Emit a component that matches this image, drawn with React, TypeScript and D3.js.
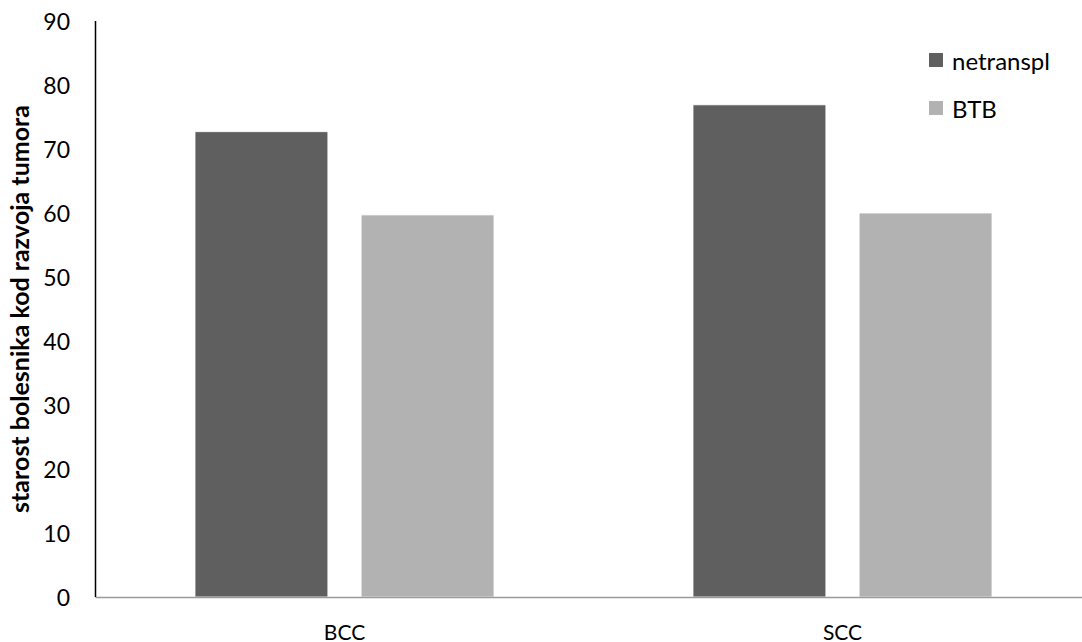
import React from "react";
import * as d3 from "d3";

const categories = ["BCC", "SCC"];
const seriesNames = ["netranspl", "BTB"];
const netransplValues = [72.7, 76.9];
const btbValues = [59.7, 60.0];
const yTicks = [0, 10, 20, 30, 40, 50, 60, 70, 80, 90];
const yAxisTitle = "starost bolesnika kod razvoja tumora";
const seriesColors = ["#5f5f5f", "#b2b2b2"];

const W = 1082;
const H = 642;
const left = 95.5;
const top = 21;
const bottom = 597;
const FONT = "Lato, 'Open Sans', sans-serif";

export default function App() {
  const y = d3.scaleLinear().domain([0, 90]).range([bottom, top]);
  const x0 = d3.scaleBand<string>().domain(categories).range([left, left + 996]).paddingInner(0).paddingOuter(0);
  const x1 = d3
    .scaleBand<string>()
    .domain(seriesNames)
    .range([99.5, x0.bandwidth() - 99.5])
    .paddingInner(0.2)
    .paddingOuter(0);
  const series = [netransplValues, btbValues];

  return (
    <svg width={W} height={H} style={{ position: "absolute", left: 0, top: 0, background: "#fff" }}>
      {categories.map((c, ci) => (
        <g key={c} transform={`translate(${x0(c)},0)`}>
          {seriesNames.map((s, si) => (
            <rect
              key={s}
              x={x1(s)}
              y={y(series[si][ci])}
              width={x1.bandwidth()}
              height={y(0) - y(series[si][ci])}
              fill={seriesColors[si]}
              stroke="#ffffff"
              strokeWidth={0.8}
            />
          ))}
          <text
            x={x0.bandwidth() / 2}
            y={631}
            textAnchor="middle"
            dominantBaseline="central"
            fontFamily={FONT}
            fontSize={21}
            fill="#000"
          >
            {c}
          </text>
        </g>
      ))}
      <line x1={left} x2={1082} y1={bottom + 0.5} y2={bottom + 0.5} stroke="#9a9a9a" strokeWidth={1.5} />
      <line x1={left} x2={left} y1={top} y2={bottom} stroke="#000" strokeWidth={1.5} />
      {yTicks.map((t) => (
        <text
          key={t}
          x={70}
          y={y(t)}
          textAnchor="end"
          dominantBaseline="central"
          fontFamily={FONT}
          fontSize={23}
          fill="#000"
        >
          {t}
        </text>
      ))}
      <text
        transform={`translate(29,${(top + bottom) / 2}) rotate(-90)`}
        textAnchor="middle"
        fontFamily={FONT}
        fontWeight="bold"
        fontSize={25}
        fill="#000"
      >
        {yAxisTitle}
      </text>
      {seriesNames.map((s, si) => (
        <g key={s} transform={`translate(929,${60 + si * 48})`}>
          <rect x={0} y={-7} width={14} height={14} fill={seriesColors[si]} />
          <text x={23} y={0} dominantBaseline="central" fontFamily={FONT} fontSize={24} fill="#000">
            {s}
          </text>
        </g>
      ))}
    </svg>
  );
}
